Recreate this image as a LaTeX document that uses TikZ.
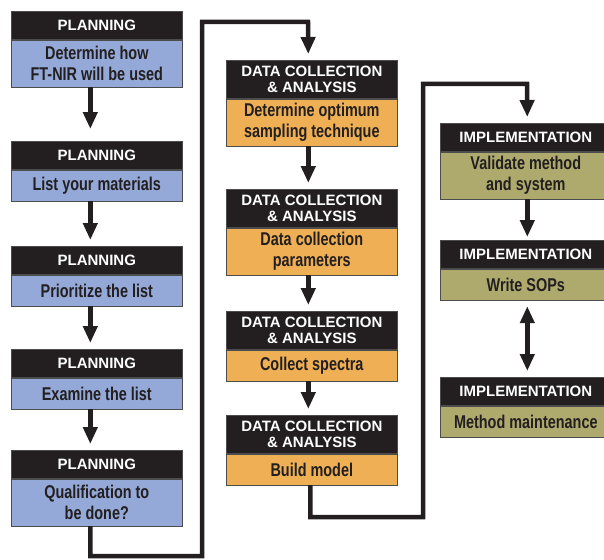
\documentclass[tikz,border=0pt]{standalone}
\usepackage{fontspec}
\setmainfont{Liberation Sans}
\newfontfamily\narrowfont[FakeStretch=0.78]{Liberation Sans}
\usetikzlibrary{positioning,arrows.meta}
\definecolor{headblack}{HTML}{231F20}
\definecolor{planblue}{HTML}{94A9D7}
\definecolor{dataorange}{HTML}{EFB055}
\definecolor{implolive}{HTML}{AEAA6E}

\begin{document}
\begin{tikzpicture}[x=1pt,y=-1pt,
  hdbox/.style={draw=black!70, line width=0.6pt, fill=headblack, text=white,
    minimum width=171pt, minimum height=28pt, inner sep=0pt, anchor=north west,
    align=center, font=\fontsize{15}{16.5}\selectfont\bfseries},
  hdboxtwo/.style={hdbox, minimum height=38pt},
  bdbox/.style={draw=black!70, line width=0.6pt, minimum width=171pt,
    minimum height=31pt, inner sep=0pt, align=center, text=headblack,
    font=\narrowfont\fontsize{18.5}{20.5}\selectfont\bfseries},
  bdboxtwo/.style={bdbox, minimum height=47pt},
  flowarrow/.style={draw=headblack, line width=4.5pt,
    -{Triangle[width=14pt,length=17pt]}, shorten >=6pt}
]
\useasboundingbox (0,0) rectangle (604,559);
\clip (0,0) rectangle (604,559);

\node[hdbox] (plan1h) at (11,11) {PLANNING};
\node[bdboxtwo, fill=planblue, below=0pt of plan1h] (plan1) {Determine how\\FT-NIR will be used};
\node[hdbox] (plan2h) at (11,141) {PLANNING};
\node[bdbox, fill=planblue, below=0pt of plan2h] (plan2) {List your materials};
\node[hdbox] (plan3h) at (11,246) {PLANNING};
\node[bdbox, fill=planblue, below=0pt of plan3h] (plan3) {Prioritize the list};
\node[hdbox] (plan4h) at (11,349) {PLANNING};
\node[bdbox, fill=planblue, below=0pt of plan4h] (plan4) {Examine the list};
\node[hdbox] (plan5h) at (11,450) {PLANNING};
\node[bdboxtwo, fill=planblue, below=0pt of plan5h] (plan5) {Qualification to\\be done?};

\node[hdboxtwo] (data1h) at (226,60) {DATA COLLECTION\\\& ANALYSIS};
\node[bdboxtwo, fill=dataorange, below=0pt of data1h] (data1) {Determine optimum\\sampling technique};
\node[hdboxtwo] (data2h) at (226,189) {DATA COLLECTION\\\& ANALYSIS};
\node[bdboxtwo, fill=dataorange, below=0pt of data2h] (data2) {Data collection\\parameters};
\node[hdboxtwo] (data3h) at (226,311) {DATA COLLECTION\\\& ANALYSIS};
\node[bdbox, fill=dataorange, below=0pt of data3h] (data3) {Collect spectra};
\node[hdboxtwo] (data4h) at (226,415) {DATA COLLECTION\\\& ANALYSIS};
\node[bdbox, fill=dataorange, below=0pt of data4h] (data4) {Build model};

\node[hdbox] (impl1h) at (440,123) {IMPLEMENTATION};
\node[bdboxtwo, fill=implolive, below=0pt of impl1h] (impl1) {Validate method\\and system};
\node[hdbox] (impl2h) at (440,240) {IMPLEMENTATION};
\node[bdbox, fill=implolive, below=0pt of impl2h] (impl2) {Write SOPs};
\node[hdbox] (impl3h) at (440,377) {IMPLEMENTATION};
\node[bdbox, fill=implolive, below=0pt of impl3h] (impl3) {Method maintenance};

\coordinate (turn1a) at (202,556);
\coordinate (turn1b) at (308,22);
\coordinate (turn2a) at (423,517);
\coordinate (turn2b) at (527,84);

\draw[flowarrow, shorten >=12pt] ([xshift=-6.5pt]plan1.south) -- ([xshift=-6.5pt]plan2h.north);
\draw[flowarrow] ([xshift=-6.5pt]plan2.south) -- ([xshift=-6.5pt]plan3h.north);
\draw[flowarrow] ([xshift=-6.5pt]plan3.south) -- ([xshift=-6.5pt]plan4h.north);
\draw[flowarrow] ([xshift=-6.5pt]plan4.south) -- ([xshift=-6.5pt]plan5h.north);
\draw[flowarrow] ([xshift=-6.5pt]plan5.south) |- (turn1a) |- (turn1b) -- ([xshift=-3.5pt]data1h.north);

\draw[flowarrow] ([xshift=-3.5pt]data1.south) -- ([xshift=-3.5pt]data2h.north);
\draw[flowarrow] ([xshift=-3.5pt]data2.south) -- ([xshift=-3.5pt]data3h.north);
\draw[flowarrow] ([xshift=-3.5pt]data3.south) -- ([xshift=-3.5pt]data4h.north);
\draw[flowarrow] ([xshift=-1.5pt]data4.south) |- (turn2a) |- (turn2b) -- ([xshift=1.5pt]impl1h.north);

\draw[flowarrow, shorten >=3pt] ([xshift=1.5pt]impl1.south) -- ([xshift=1.5pt]impl2h.north);
\draw[flowarrow, {Triangle[width=14pt,length=17pt]}-{Triangle[width=14pt,length=17pt]}, shorten <=6pt] ([xshift=1.5pt]impl2.south) -- ([xshift=1.5pt]impl3h.north);
\end{tikzpicture}
\end{document}
